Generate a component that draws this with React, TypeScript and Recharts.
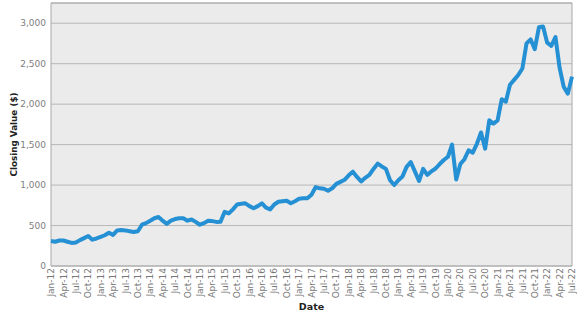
import { LineChart, Line, XAxis, YAxis, CartesianGrid, ReferenceArea } from 'recharts'

// month-end closing values, Jan-12 .. Jul-22
const closingValues = [
  310, 300, 315, 315, 300, 285, 290, 320, 345, 370, 325, 340,
  360, 380, 410, 385, 440, 445, 440, 430, 420, 430, 510, 530,
  560, 590, 605, 560, 520, 560, 580, 590, 590, 560, 575, 545,
  510, 530, 560, 555, 545, 548, 670, 650, 700, 760, 770, 775,
  740, 713, 740, 774, 720, 700, 760, 794, 800, 806, 775, 800,
  830, 836, 836, 880, 975, 960, 955, 930, 960, 1015, 1040, 1065,
  1120, 1165, 1100, 1045, 1090, 1125, 1200, 1265, 1230, 1200, 1060, 1000,
  1060, 1105, 1225, 1285, 1170, 1050, 1200, 1125, 1170, 1205, 1260, 1310,
  1350, 1500, 1070, 1260, 1320, 1430, 1400, 1510, 1650, 1450, 1800, 1760,
  1800, 2060, 2030, 2240, 2300, 2360, 2440, 2750, 2800, 2680, 2950, 2960,
  2760, 2720, 2830, 2450, 2214, 2130, 2340,
]

const quarterLabels = [
  'Jan-12', 'Apr-12', 'Jul-12', 'Oct-12',
  'Jan-13', 'Apr-13', 'Jul-13', 'Oct-13',
  'Jan-14', 'Apr-14', 'Jul-14', 'Oct-14',
  'Jan-15', 'Apr-15', 'Jul-15', 'Oct-15',
  'Jan-16', 'Apr-16', 'Jul-16', 'Oct-16',
  'Jan-17', 'Apr-17', 'Jul-17', 'Oct-17',
  'Jan-18', 'Apr-18', 'Jul-18', 'Oct-18',
  'Jan-19', 'Apr-19', 'Jul-19', 'Oct-19',
  'Jan-20', 'Apr-20', 'Jul-20', 'Oct-20',
  'Jan-21', 'Apr-21', 'Jul-21', 'Oct-21',
  'Jan-22', 'Apr-22', 'Jul-22',
]

const valueTicks = [0, 500, 1000, 1500, 2000, 2500, 3000]

const FONT = '"DejaVu Sans", Verdana, sans-serif'

const data = closingValues.map((v, i) => ({ m: i, value: v }))
const monthTicks = quarterLabels.map((_, i) => i * 3)
const lastMonth = closingValues.length - 1

function DateTick(props: any) {
  const { x, y, payload } = props
  const label = quarterLabels[Math.round(payload.value / 3)]
  return (
    <text
      x={x}
      y={y}
      dy="0.35em"
      transform={`rotate(-90, ${x}, ${y})`}
      textAnchor="end"
      fontSize={9}
      fontFamily={FONT}
      fill="#777"
    >
      {label}
    </text>
  )
}

export default function App() {
  return (
    <div style={{ position: 'absolute', left: 0, top: 0, width: 577, height: 315 }}>
      <LineChart
        width={577}
        height={315}
        data={data}
        margin={{ top: 3, right: 5, left: 0, bottom: 0 }}
      >
        <CartesianGrid vertical={false} stroke="#b8b8b8" fill="#ebebeb" />
        <XAxis
          dataKey="m"
          type="number"
          domain={[0, lastMonth]}
          ticks={monthTicks}
          interval={0}
          height={49}
          axisLine={false}
          tickLine={false}
          tickSize={2}
          tickMargin={0}
          tick={<DateTick />}
          label={{
            value: 'Date',
            position: 'insideBottom',
            offset: 5,
            fontSize: 9.5,
            fontWeight: 'bold',
            fontFamily: FONT,
            fill: '#222',
          }}
        />
        <YAxis
          type="number"
          domain={[0, 3250]}
          ticks={valueTicks}
          width={51}
          axisLine={false}
          tickLine={false}
          tickSize={5}
          tickMargin={0}
          tickFormatter={(v: number) => v.toLocaleString('en-US')}
          tick={{ fontSize: 9, fontFamily: FONT, fill: '#808080' }}
          label={{
            value: 'Closing Value ($)',
            angle: -90,
            position: 'center',
            dx: -12,
            fontSize: 8.8,
            fontWeight: 'bold',
            fontFamily: FONT,
            fill: '#222',
          }}
        />
        <ReferenceArea
          x1={0}
          x2={lastMonth}
          y1={0}
          y2={3250}
          fill="#ebebeb"
          fillOpacity={0}
          stroke="#a8a8a8"
          strokeWidth={1}
        />
        <Line
          type="linear"
          dataKey="value"
          stroke="#2590d3"
          strokeWidth={4}
          strokeLinejoin="round"
          dot={false}
          activeDot={false}
          isAnimationActive={false}
        />
      </LineChart>
    </div>
  )
}
